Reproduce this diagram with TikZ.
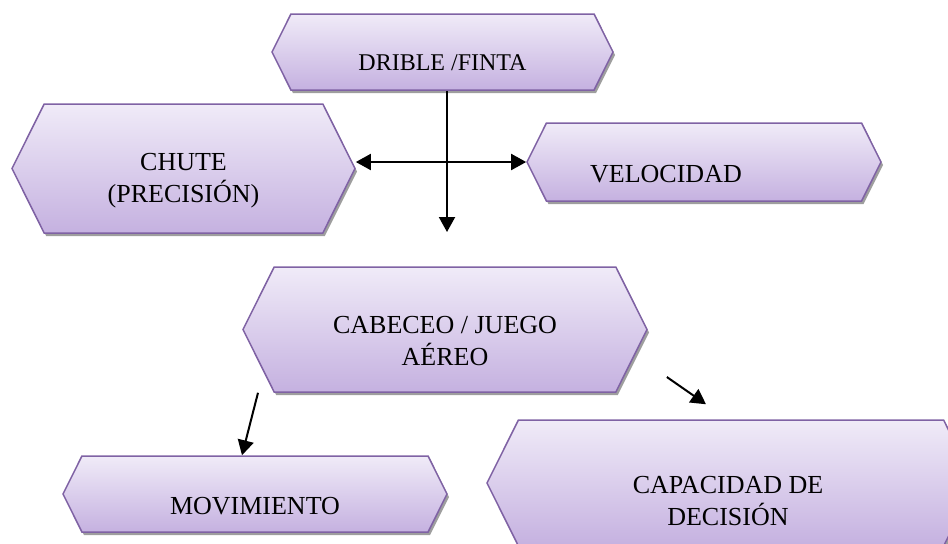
\documentclass[tikz,border=0pt]{standalone}
\usepackage{fontspec}
\setmainfont{Liberation Serif}
\usetikzlibrary{shapes.symbols,shadows,arrows.meta}
\definecolor{hexline}{HTML}{7F62A4}
\definecolor{hextop}{HTML}{F0EBF8}
\definecolor{hexbottom}{HTML}{C5B1E0}
\tikzstyle{hexa}=[signal, signal to=west and east, signal pointer angle=127,
    draw=hexline, line width=0.75pt, top color=hextop, bottom color=hexbottom,
    inner sep=0pt,
    drop shadow={shadow xshift=1pt, shadow yshift=-1.5pt, fill=black!38, opacity=1}]
\tikzstyle{hextext}=[align=center, font=\fontsize{13}{16}\selectfont, yshift=-6pt]
\tikzstyle{arr}=[line width=1pt, -{Triangle[length=7.5pt,width=8pt]}]
\tikzstyle{dblarr}=[line width=1pt, {Triangle[length=7.5pt,width=8pt]}-{Triangle[length=7.5pt,width=8pt]}]

\begin{document}
\begin{tikzpicture}[x=0.5pt, y=-0.5pt]
  \useasboundingbox (0,0) rectangle (948,543);

  % the six skills
  \node[hexa, minimum width=170.5pt, minimum height=38pt, label={[hextext, font=\fontsize{12}{15}\selectfont, yshift=0.5pt]center:{DRIBLE /FINTA}}] (dribble) at (442.5,52) {};
  \node[hexa, minimum width=171.5pt, minimum height=64.5pt, label={[hextext]center:{CHUTE\\(PRECISIÓN)}}] (chute) at (183.5,168.5) {};
  \node[hexa, minimum width=177pt, minimum height=39pt, label={[hextext, xshift=-19pt]center:{VELOCIDAD}}] (velocidad) at (704,162) {};
  \node[hexa, minimum width=202pt, minimum height=62.5pt, label={[hextext]center:{CABECEO / JUEGO\\AÉREO}}] (cabeceo) at (445,329.5) {};
  \node[hexa, minimum width=192pt, minimum height=38pt, label={[hextext]center:{MOVIMIENTO}}] (movimiento) at (255,494) {};
  \node[hexa, minimum width=244pt, minimum height=63pt, label={[hextext, xshift=-1.5pt, yshift=-3pt]center:{CAPACIDAD DE\\DECISIÓN}}] (capacidad) at (731,483) {};

  % connectors
  \coordinate (down) at (447,232);
  \draw[arr] (dribble.south -| down) -- (down);
  \draw[dblarr] (chute.east |- velocidad.west) -- (velocidad.west);
  \draw[arr] ([xshift=-93.5pt]cabeceo.south) -- ([xshift=-6.5pt]movimiento.north);
  \draw[arr] ([xshift=9.5pt, yshift=-23.75pt]cabeceo.east) -- ([xshift=-12.5pt, yshift=7.5pt]capacidad.north);
\end{tikzpicture}
\end{document}
